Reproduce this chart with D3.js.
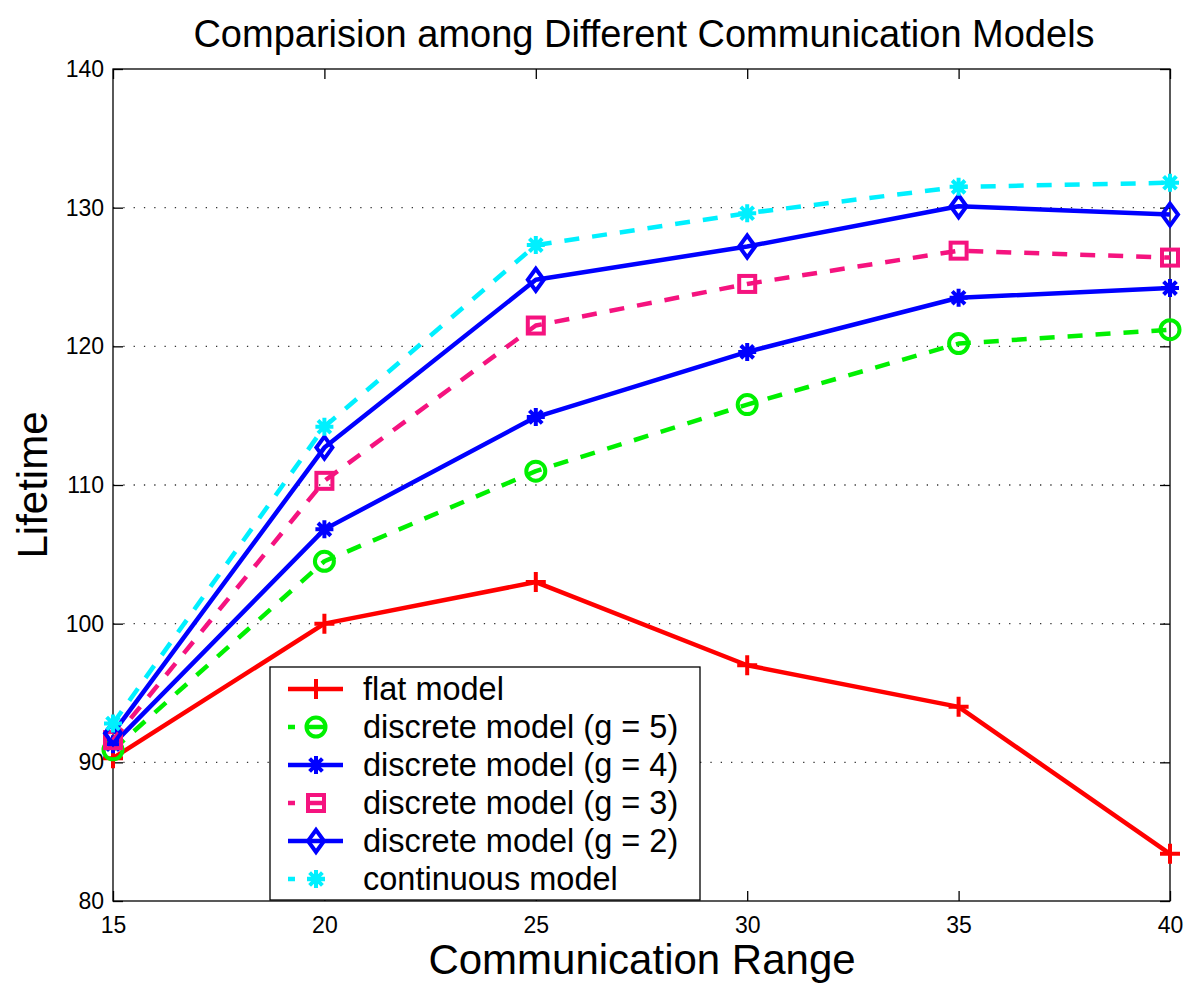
<!DOCTYPE html>
<html><head><meta charset="utf-8">
<script src="https://cdn.jsdelivr.net/npm/d3@7"></script>
<style>body{margin:0;background:#fff}svg{display:block}text{font-family:"Liberation Sans",Arial,Helvetica,sans-serif;fill:#000}</style>
</head><body><svg id="c" width="1200" height="989"></svg>
<script>
const ranges = [15, 20, 25, 30, 35, 40];
const flatModel = [90.3, 100.0, 103.0, 97.0, 94.0, 83.4];
const discreteG5 = [90.9, 104.5, 111.0, 115.8, 120.2, 121.2];
const discreteG4 = [91.3, 106.8, 114.9, 119.6, 123.5, 124.2];
const discreteG3 = [91.6, 110.3, 121.5, 124.5, 126.9, 126.4];
const discreteG2 = [92.1, 112.7, 124.8, 127.2, 130.1, 129.5];
const continuousModel = [92.8, 114.2, 127.3, 129.6, 131.5, 131.8];
const yTicks = [80, 90, 100, 110, 120, 130, 140];
const gridTicks = [90, 100, 110, 120, 130];
const seriesNames = ["flat model", "discrete model (g = 5)", "discrete model (g = 4)", "discrete model (g = 3)", "discrete model (g = 2)", "continuous model"];

const series = [
  {name: seriesNames[0], values: flatModel, color: "#ff0000", dash: null, marker: "plus"},
  {name: seriesNames[1], values: discreteG5, color: "#00f000", dash: "15,13", marker: "circle"},
  {name: seriesNames[2], values: discreteG4, color: "#0000ff", dash: null, marker: "star"},
  {name: seriesNames[3], values: discreteG3, color: "#f5137f", dash: "15,13", marker: "square"},
  {name: seriesNames[4], values: discreteG2, color: "#0000ff", dash: null, marker: "diamond"},
  {name: seriesNames[5], values: continuousModel, color: "#00f0ff", dash: "15,13", marker: "star"}
];

const L = 113, R = 1170, T = 69, B = 901;
const svg = d3.select("#c");
const x = d3.scaleLinear().domain([15, 40]).range([L, R]);
const y = d3.scaleLinear().domain([80, 140]).range([B, T]);
const FONT = '"Liberation Sans",Arial,sans-serif';

// grid
svg.append("g").selectAll("line").data(gridTicks).join("line")
  .attr("x1", L).attr("x2", R).attr("y1", d => y(d)).attr("y2", d => y(d))
  .attr("stroke", "#333").attr("stroke-width", 1.3).attr("stroke-dasharray", "1.3,9");

// axes box
svg.append("rect").attr("x", L).attr("y", T).attr("width", R - L).attr("height", B - T)
  .attr("fill", "none").attr("stroke", "#000").attr("stroke-width", 1.3);

const tickLen = 10;
// bottom axis
const xAxis = d3.axisBottom(x).tickValues(ranges).tickSizeInner(-tickLen).tickSizeOuter(0).tickPadding(16).tickFormat(d3.format("d"));
const gx = svg.append("g").attr("transform", `translate(0,${B})`).call(xAxis);
gx.select(".domain").remove();
gx.selectAll("line").attr("stroke", "#000").attr("stroke-width", 1.3);
gx.selectAll("text").attr("font-size", 23).attr("font-family", FONT).attr("fill", "#000");
// top ticks
const xTop = d3.axisTop(x).tickValues(ranges).tickSizeInner(-tickLen).tickSizeOuter(0).tickFormat("");
const gxt = svg.append("g").attr("transform", `translate(0,${T})`).call(xTop);
gxt.select(".domain").remove();
gxt.selectAll("line").attr("stroke", "#000").attr("stroke-width", 1.3);
// left axis
const yAxis = d3.axisLeft(y).tickValues(yTicks).tickSizeInner(-tickLen).tickSizeOuter(0).tickPadding(20).tickFormat(d3.format("d"));
const gy = svg.append("g").attr("transform", `translate(${L},0)`).call(yAxis);
gy.select(".domain").remove();
gy.selectAll("line").attr("stroke", "#000").attr("stroke-width", 1.3);
gy.selectAll("text").attr("font-size", 23).attr("font-family", FONT).attr("fill", "#000").attr("dx", 11);
// right ticks
const yRight = d3.axisRight(y).tickValues(yTicks).tickSizeInner(-tickLen).tickSizeOuter(0).tickFormat("");
const gyr = svg.append("g").attr("transform", `translate(${R},0)`).call(yRight);
gyr.select(".domain").remove();
gyr.selectAll("line").attr("stroke", "#000").attr("stroke-width", 1.3);

// marker drawing
function drawMarker(g, type, cx, cy, color) {
  const m = g.append("g").attr("transform", `translate(${cx},${cy})`)
    .attr("stroke", color).attr("stroke-width", 4).attr("fill", "none");
  if (type === "plus") {
    m.append("path").attr("d", "M-10,0H10M0,-10V10");
  } else if (type === "circle") {
    m.append("circle").attr("r", 9.5);
  } else if (type === "star") {
    m.append("path").attr("d", "M-9,0H9M0,-9V9M-6.4,-6.4L6.4,6.4M-6.4,6.4L6.4,-6.4");
  } else if (type === "square") {
    m.append("rect").attr("x", -8).attr("y", -8).attr("width", 16).attr("height", 16);
  } else if (type === "diamond") {
    m.append("path").attr("d", "M0,-11L8,0L0,11L-8,0Z");
  }
}

const line = d3.line().x((d, i) => x(ranges[i])).y(d => y(d));
series.forEach(s => {
  const g = svg.append("g");
  g.append("path").datum(s.values).attr("d", line)
    .attr("fill", "none").attr("stroke", s.color).attr("stroke-width", 4.5)
    .attr("stroke-dasharray", s.dash).attr("stroke-linejoin", "round");
  s.values.forEach((v, i) => drawMarker(g, s.marker, x(ranges[i]), y(v), s.color));
});

// legend
const lg = svg.append("g");
lg.append("rect").attr("x", 270).attr("y", 667).attr("width", 430).attr("height", 233)
  .attr("fill", "#fff").attr("stroke", "#000").attr("stroke-width", 1.3);
series.forEach((s, i) => {
  const ly = 689 + i * 38;
  const ll = lg.append("line").attr("x1", 288).attr("x2", 343).attr("y1", ly).attr("y2", ly)
    .attr("stroke", s.color).attr("stroke-width", 4.5);
  if (s.dash) ll.attr("stroke-dasharray", "7,12,18,20");
  drawMarker(lg, s.marker, 316, ly, s.color);
  lg.append("text").attr("x", 363).attr("y", ly + 11).attr("font-size", 32.5).text(s.name);
});

// titles
svg.append("text").attr("x", 644).attr("y", 47).attr("text-anchor", "middle").attr("font-size", 38)
  .text("Comparision among Different Communication Models");
svg.append("text").attr("x", 642).attr("y", 974).attr("text-anchor", "middle").attr("font-size", 42)
  .text("Communication Range");
svg.append("text").attr("transform", "translate(47,485) rotate(-90)").attr("text-anchor", "middle").attr("font-size", 42)
  .text("Lifetime");
</script></body></html>
